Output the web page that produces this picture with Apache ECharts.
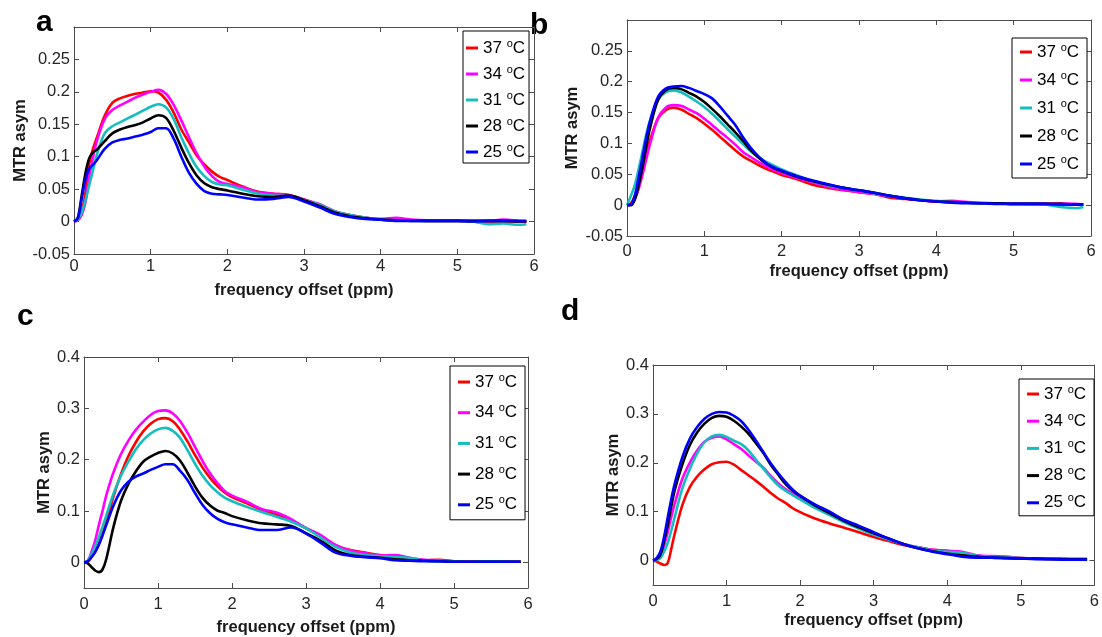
<!DOCTYPE html>
<html><head><meta charset="utf-8">
<script src="https://cdn.jsdelivr.net/npm/echarts@6/dist/echarts.min.js"></script>
<style>html,body{margin:0;padding:0;background:#fff}#c{width:1102px;height:637px}</style>
</head><body><div id="c"></div><script>
// frequency offset (ppm) sample positions
const ppm = [0,0.05,0.1,0.15,0.2,0.25,0.3,0.4,0.5,0.6,0.7,0.8,0.9,1.0,1.1,1.2,1.3,1.4,1.5,1.6,1.7,1.8,1.9,2.0,2.2,2.4,2.6,2.8,3.0,3.2,3.4,3.6,3.8,4.0,4.2,4.4,4.6,4.8,5.0,5.2,5.4,5.6,5.8,5.9];
const temps = ['37','34','31','28','25'];
const xTicks = [0,1,2,3,4,5,6];
const yTicksAB = [-0.05,0,0.05,0.1,0.15,0.2,0.25];
const yTicksCD = [0,0.1,0.2,0.3,0.4];

// panel a
const a37 = [0,0.003,0.015,0.045,0.09,0.113,0.13,0.163,0.183,0.19,0.194,0.197,0.199,0.201,0.199,0.188,0.168,0.142,0.122,0.102,0.088,0.077,0.069,0.064,0.054,0.046,0.043,0.041,0.034,0.026,0.015,0.01,0.006,0.004,0.003,0.002,0.001,0.001,0.001,0.0,-0.001,0.0,0.0,0.0];
const a34 = [0,0.002,0.01,0.03,0.07,0.1,0.125,0.158,0.172,0.179,0.185,0.191,0.196,0.2,0.203,0.197,0.18,0.156,0.13,0.105,0.085,0.07,0.061,0.058,0.053,0.045,0.043,0.041,0.034,0.027,0.016,0.01,0.006,0.004,0.006,0.003,0.002,0.002,0.002,0.001,0.001,0.003,0.001,0.0];
const a31 = [0,0.003,0.014,0.033,0.057,0.08,0.104,0.136,0.147,0.153,0.159,0.165,0.171,0.177,0.181,0.176,0.158,0.13,0.105,0.084,0.07,0.061,0.057,0.056,0.049,0.043,0.04,0.039,0.033,0.026,0.016,0.01,0.006,0.003,0.002,0.002,0.001,0.001,0.001,0.0,-0.004,-0.003,-0.005,-0.004];
const a28 = [0,0.006,0.04,0.075,0.098,0.107,0.111,0.124,0.136,0.142,0.146,0.149,0.153,0.159,0.164,0.16,0.14,0.114,0.09,0.071,0.059,0.053,0.05,0.048,0.043,0.039,0.038,0.04,0.033,0.024,0.014,0.008,0.005,0.003,0.002,0.001,0.001,0.001,0.001,0.001,0.001,0.001,0.0,0.0];
const a25 = [0,0.005,0.035,0.065,0.082,0.088,0.095,0.112,0.122,0.126,0.128,0.131,0.134,0.138,0.144,0.144,0.128,0.1,0.075,0.058,0.047,0.043,0.042,0.041,0.037,0.034,0.035,0.038,0.031,0.022,0.012,0.007,0.004,0.003,0.001,0.001,0.001,0.001,0.001,0.0,0.001,0.001,0.001,0.001];
// panel b
const b37 = [0,0.003,0.015,0.035,0.06,0.085,0.106,0.14,0.154,0.158,0.155,0.148,0.141,0.132,0.122,0.111,0.1,0.089,0.079,0.072,0.065,0.059,0.054,0.049,0.042,0.033,0.028,0.024,0.021,0.018,0.012,0.01,0.008,0.006,0.005,0.004,0.003,0.003,0.002,0.002,0.002,0.001,0.001,0.001];
const b34 = [0,0.001,0.009,0.026,0.049,0.075,0.1,0.141,0.158,0.162,0.161,0.155,0.149,0.14,0.13,0.119,0.109,0.098,0.086,0.078,0.07,0.063,0.057,0.052,0.044,0.037,0.03,0.025,0.021,0.018,0.014,0.011,0.008,0.006,0.007,0.005,0.004,0.003,0.003,0.002,0.002,0.003,0.002,0.001];
const b31 = [0,0.015,0.032,0.058,0.087,0.115,0.138,0.17,0.183,0.186,0.183,0.176,0.168,0.159,0.148,0.136,0.123,0.111,0.099,0.087,0.078,0.07,0.064,0.058,0.048,0.039,0.032,0.028,0.024,0.019,0.015,0.012,0.009,0.007,0.005,0.004,0.003,0.003,0.002,0.002,0.001,-0.003,-0.005,-0.003];
const b28 = [0,0,0.009,0.032,0.061,0.096,0.126,0.17,0.186,0.19,0.188,0.182,0.176,0.167,0.156,0.144,0.131,0.118,0.104,0.089,0.077,0.067,0.06,0.055,0.046,0.039,0.033,0.028,0.024,0.02,0.015,0.011,0.008,0.006,0.005,0.004,0.003,0.003,0.002,0.002,0.002,0.002,0.001,0.001];
const b25 = [0,0.001,0.015,0.045,0.077,0.11,0.137,0.175,0.189,0.192,0.193,0.19,0.185,0.18,0.173,0.16,0.145,0.13,0.11,0.093,0.079,0.068,0.061,0.056,0.047,0.04,0.034,0.028,0.024,0.02,0.015,0.011,0.008,0.006,0.004,0.003,0.003,0.002,0.002,0.002,0.002,0.001,0.001,0.001];
// panel c
const c37 = [0,0.001,0.01,0.02,0.036,0.056,0.078,0.129,0.172,0.207,0.234,0.255,0.27,0.279,0.281,0.275,0.258,0.235,0.209,0.185,0.165,0.149,0.136,0.127,0.115,0.102,0.093,0.082,0.066,0.051,0.033,0.024,0.019,0.014,0.011,0.007,0.004,0.005,0.002,0.001,0.002,0.002,0.001,0.002];
const c34 = [0,0.003,0.02,0.042,0.072,0.1,0.13,0.176,0.211,0.237,0.258,0.274,0.287,0.295,0.296,0.29,0.275,0.252,0.225,0.198,0.174,0.155,0.139,0.13,0.118,0.104,0.097,0.084,0.067,0.053,0.034,0.023,0.018,0.013,0.014,0.009,0.005,0.004,0.002,0.001,0.002,0.002,0.001,0.001];
const c31 = [0,0.003,0.016,0.031,0.049,0.069,0.091,0.134,0.169,0.196,0.22,0.238,0.251,0.259,0.262,0.256,0.242,0.218,0.192,0.169,0.151,0.137,0.126,0.119,0.108,0.098,0.089,0.079,0.066,0.048,0.03,0.019,0.014,0.012,0.01,0.009,0.003,0.002,0.002,0.001,0.002,0.002,0.001,0.001];
const c28 = [0,-0.002,-0.009,-0.016,-0.019,-0.014,0.006,0.07,0.12,0.153,0.177,0.196,0.206,0.213,0.217,0.212,0.198,0.174,0.148,0.126,0.111,0.101,0.096,0.09,0.082,0.076,0.074,0.071,0.057,0.042,0.023,0.014,0.011,0.009,0.006,0.004,0.003,0.002,0.001,0.001,0.001,0.001,0.001,0.001];
const c25 = [0,0.002,0.01,0.02,0.034,0.052,0.072,0.111,0.14,0.157,0.167,0.173,0.18,0.186,0.191,0.191,0.178,0.16,0.135,0.112,0.096,0.085,0.078,0.074,0.068,0.063,0.063,0.068,0.056,0.038,0.019,0.013,0.01,0.008,0.004,0.003,0.002,0.002,0.001,0.001,0.001,0.001,0.001,0.001];
// panel d
const d37 = [0,-0.002,-0.006,-0.009,-0.005,0.025,0.058,0.114,0.15,0.172,0.187,0.197,0.201,0.202,0.196,0.185,0.174,0.163,0.151,0.138,0.127,0.118,0.107,0.099,0.086,0.076,0.067,0.058,0.048,0.04,0.032,0.027,0.022,0.02,0.013,0.01,0.007,0.006,0.005,0.004,0.004,0.003,0.002,0.002];
const d34 = [0,0.002,0.008,0.03,0.058,0.09,0.119,0.168,0.2,0.225,0.243,0.251,0.254,0.248,0.238,0.228,0.215,0.202,0.19,0.173,0.158,0.146,0.137,0.128,0.112,0.095,0.08,0.067,0.053,0.043,0.034,0.027,0.022,0.02,0.018,0.011,0.009,0.008,0.005,0.004,0.004,0.003,0.002,0.002];
const d31 = [0,0.001,0.005,0.018,0.036,0.062,0.092,0.148,0.187,0.219,0.242,0.254,0.257,0.253,0.245,0.238,0.225,0.206,0.188,0.17,0.154,0.143,0.134,0.125,0.108,0.093,0.078,0.065,0.053,0.043,0.034,0.027,0.02,0.018,0.016,0.01,0.007,0.006,0.005,0.004,0.004,0.003,0.003,0.003];
const d28 = [0,0.003,0.012,0.04,0.073,0.112,0.147,0.197,0.236,0.262,0.28,0.292,0.296,0.294,0.286,0.274,0.259,0.24,0.22,0.196,0.176,0.157,0.143,0.132,0.113,0.097,0.081,0.068,0.056,0.045,0.034,0.025,0.019,0.014,0.01,0.008,0.006,0.005,0.004,0.004,0.003,0.003,0.003,0.003];
const d25 = [0,0.005,0.018,0.048,0.088,0.127,0.16,0.212,0.249,0.273,0.29,0.3,0.304,0.303,0.296,0.285,0.267,0.245,0.222,0.199,0.179,0.161,0.145,0.133,0.115,0.1,0.083,0.071,0.058,0.045,0.034,0.025,0.018,0.013,0.008,0.006,0.006,0.005,0.004,0.003,0.003,0.002,0.002,0.002];

const colors = ['#ff0000','#ff00ff','#14bebe','#000000','#0000ff'];
const FONT = "'Liberation Sans', Arial, Helvetica, sans-serif";
const AX = '#4d4d4d';

const panels = [
  {letter:'a', lx:36, ly:8, data:[a37,a34,a31,a28,a25], grid:{left:74,top:27,width:460,height:227}, yMin:-0.05, yMax:0.3, yTicks:yTicksAB, xMargin:4, xNameGap:28, yNameGap:45,
   legend:{left:463, top:31, padding:[7,4,1,3], itemGap:6}},
  {letter:'b', lx:530, ly:11, data:[b37,b34,b31,b28,b25], grid:{left:627,top:20,width:464,height:216}, yMin:-0.05, yMax:0.3, yTicks:yTicksAB, xMargin:7, xNameGap:27, yNameGap:46,
   legend:{left:1012, top:38, padding:[4,8,4,8], itemGap:8}},
  {letter:'c', lx:17, ly:302, data:[c37,c34,c31,c28,c25], grid:{left:84,top:357,width:444,height:231}, yMin:-0.05, yMax:0.4, yTicks:yTicksCD, xMargin:8, xNameGap:31, yNameGap:28,
   legend:{left:450, top:366, padding:[6,8,5,8], itemGap:10.7}},
  {letter:'d', lx:561, ly:297, data:[d37,d34,d31,d28,d25], grid:{left:653,top:365,width:444,height:220}, yMin:-0.05, yMax:0.4, yTicks:yTicksCD, xMargin:8, xNameGap:27, yNameGap:28,
   legend:{left:1019, top:379, padding:[5,8,3,8], itemGap:7.2}}
];

const option = {animation:false, backgroundColor:'#fff', grid:[], xAxis:[], yAxis:[], series:[], legend:[], graphic:[]};
const lineSt = {show:true, onZero:false, lineStyle:{color:AX, width:1}};
const tickSt = (vals) => ({show:true, inside:true, length:5, lineStyle:{color:AX, width:1}, customValues:vals});

panels.forEach((p, i) => {
  option.grid.push(Object.assign({containLabel:false}, p.grid));
  option.xAxis.push({type:'value', gridIndex:i, min:0, max:6, interval:1, axisLine:lineSt, axisTick:tickSt(xTicks),
    axisLabel:{margin:p.xMargin, fontSize:16.5, color:'#262626', fontFamily:FONT, customValues:xTicks}, splitLine:{show:false},
    name:'frequency offset (ppm)', nameLocation:'middle', nameGap:p.xNameGap,
    nameTextStyle:{fontSize:16.5, fontWeight:'bold', color:'#1a1a1a', fontFamily:FONT}});
  option.xAxis.push({type:'value', gridIndex:i, position:'top', min:0, max:6, interval:1, axisLine:lineSt, axisTick:tickSt(xTicks),
    axisLabel:{show:false}, splitLine:{show:false}});
  option.yAxis.push({type:'value', gridIndex:i, min:p.yMin, max:p.yMax, axisLine:lineSt, axisTick:tickSt(p.yTicks),
    axisLabel:{margin:4, fontSize:16.5, color:'#262626', fontFamily:FONT, customValues:p.yTicks}, splitLine:{show:false},
    name:'MTR asym', nameLocation:'middle', nameGap:p.yNameGap, nameRotate:90,
    nameTextStyle:{fontSize:16.5, fontWeight:'bold', color:'#1a1a1a', fontFamily:FONT}});
  option.yAxis.push({type:'value', gridIndex:i, position:'right', min:p.yMin, max:p.yMax, axisLine:lineSt, axisTick:tickSt(p.yTicks),
    axisLabel:{show:false}, splitLine:{show:false}});
  p.data.forEach((arr, j) => {
    option.series.push({type:'line', name:temps[j], xAxisIndex:2*i, yAxisIndex:2*i, data:ppm.map((x,k)=>[x, arr[k]]),
      showSymbol:false, symbol:'none', smooth:0.35, z:2+j, lineStyle:{width:2.6, color:colors[j]}, itemStyle:{color:colors[j]}});
  });
  option.legend.push({orient:'vertical', left:p.legend.left, top:p.legend.top, padding:p.legend.padding, itemGap:p.legend.itemGap,
    itemWidth:12, itemHeight:3, icon:'rect', selectedMode:false, backgroundColor:'#fff', borderColor:'#000', borderWidth:1, borderRadius:0,
    data:temps, formatter: n => n + ' {s|o}C',
    textStyle:{fontSize:17, color:'#000', fontFamily:FONT, lineHeight:20, rich:{s:{fontSize:11, verticalAlign:'top', lineHeight:12, fontFamily:FONT, color:'#000'}}}});
  option.graphic.push({type:'text', left:p.lx, top:p.ly, style:{text:p.letter, font:"bold 30px " + FONT, fill:'#000'}});
});

const chart = echarts.init(document.getElementById('c'), null, {renderer:'canvas'});
chart.setOption(option);
</script></body></html>
